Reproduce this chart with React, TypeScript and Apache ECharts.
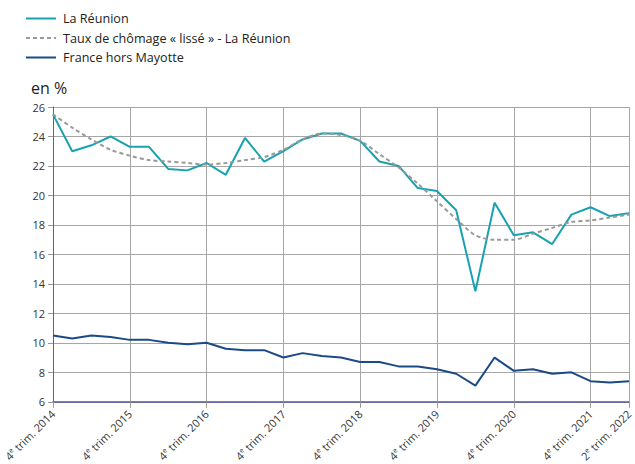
import React, { useEffect, useRef } from "react";
import * as echarts from "echarts";

const quarters: string[] = (() => {
  const out: string[] = ["4e trim. 2014"];
  const q = ["1er", "2e", "3e", "4e"];
  for (let y = 2015; y <= 2021; y++) for (const s of q) out.push(`${s} trim. ${y}`);
  out.push("1er trim. 2022", "2e trim. 2022");
  return out;
})();

const reunion = [25.5, 23.0, 23.4, 24.0, 23.3, 23.3, 21.8, 21.7, 22.2, 21.4, 23.9, 22.3, 23.0, 23.8, 24.2, 24.2, 23.7, 22.3, 22.0, 20.5, 20.3, 19.0, 13.5, 19.5, 17.3, 17.5, 16.7, 18.7, 19.2, 18.6, 18.8];
const lisse = [25.5, 24.6, 23.8, 23.1, 22.7, 22.4, 22.3, 22.2, 22.1, 22.2, 22.4, 22.6, 23.1, 23.8, 24.2, 24.1, 23.7, 22.8, 21.9, 20.8, 19.6, 18.4, 17.3, 17.0, 17.0, 17.4, 17.8, 18.2, 18.3, 18.5, 18.7];
const france = [10.5, 10.3, 10.5, 10.4, 10.2, 10.2, 10.0, 9.9, 10.0, 9.6, 9.5, 9.5, 9.0, 9.3, 9.1, 9.0, 8.7, 8.7, 8.4, 8.4, 8.2, 7.9, 7.1, 9.0, 8.1, 8.2, 7.9, 8.0, 7.4, 7.3, 7.4];

const seriesNames = ["La Réunion", "Taux de chômage « lissé » - La Réunion", "France hors Mayotte"];
const yTicks = { min: 6, max: 26, interval: 2 };

const FONT = "'Open Sans', sans-serif";
const shown = (i: number) => i % 4 === 0 || i === quarters.length - 1;

export default function App() {
  const ref = useRef<HTMLDivElement>(null);
  useEffect(() => {
    if (!ref.current) return;
    const chart = echarts.init(ref.current, undefined, { renderer: "svg" });
    chart.setOption({
      animation: false,
      backgroundColor: "#ffffff",
      title: {
        text: "en %",
        left: 26,
        top: 75,
        textStyle: { fontFamily: FONT, fontSize: 16, fontWeight: "normal", color: "#222" },
      },
      legend: {
        orient: "vertical",
        left: 20,
        top: 7,
        itemWidth: 30,
        itemHeight: 10,
        itemGap: 6.5,
        itemStyle: { opacity: 0 },
        textStyle: { fontFamily: FONT, fontSize: 12.6, color: "#222", padding: [0, 0, 0, 2] },
        data: seriesNames,
      },
      grid: { left: 53, right: 3, top: 107, bottom: 60 },
      xAxis: {
        type: "category",
        data: quarters,
        boundaryGap: false,
        axisLine: { lineStyle: { color: "#54589e", width: 1.5 } },
        axisTick: { show: true, interval: (i: number) => shown(i), length: 6, lineStyle: { color: "#9a9a9a" } },
        splitLine: { show: true, interval: (i: number) => shown(i), lineStyle: { color: "#a6a6a6", width: 1 } },
        axisLabel: {
          interval: (i: number) => shown(i),
          rotate: 45,
          margin: 10,
          fontFamily: FONT,
          fontSize: 11,
          color: "#333",
          formatter: (v: string) => v.replace(/^(\d)(er|e)/, (_m, d, s) => `${d}{s|${s}}`),
          rich: { s: { fontSize: 7, fontFamily: FONT, color: "#333", padding: [0, 0, 5, 0] } },
        },
      },
      yAxis: {
        type: "value",
        min: yTicks.min,
        max: yTicks.max,
        interval: yTicks.interval,
        axisLine: { show: true, lineStyle: { color: "#5c5fb0", width: 1 } },
        axisTick: { show: true, length: 5, lineStyle: { color: "#9a9a9a" } },
        splitLine: { show: true, lineStyle: { color: "#a6a6a6", width: 1 } },
        axisLabel: { fontFamily: FONT, fontSize: 11, color: "#333", margin: 8 },
      },
      series: [
        {
          name: seriesNames[0],
          type: "line",
          data: reunion,
          symbol: "none",
          lineStyle: { color: "#17a2b0", width: 2 },
          itemStyle: { color: "#17a2b0" },
          z: 3,
        },
        {
          name: seriesNames[1],
          type: "line",
          data: lisse,
          symbol: "none",
          smooth: 0.3,
          lineStyle: { color: "#999999", width: 2, type: [4, 3] },
          itemStyle: { color: "#999999" },
          z: 4,
        },
        {
          name: seriesNames[2],
          type: "line",
          data: france,
          symbol: "none",
          lineStyle: { color: "#1c4a86", width: 2 },
          itemStyle: { color: "#1c4a86" },
          z: 3,
        },
      ],
    });
    return () => chart.dispose();
  }, []);
  return <div ref={ref} style={{ position: "fixed", left: 0, top: 0, width: 635, height: 464 }} />;
}
